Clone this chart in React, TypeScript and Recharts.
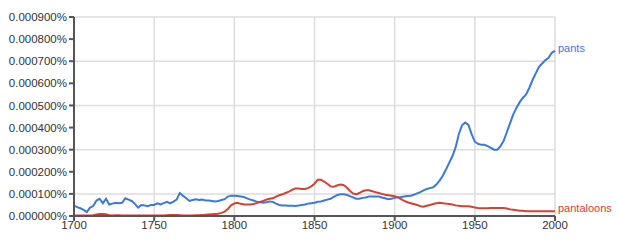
import React from 'react'
import { LineChart, Line, XAxis, YAxis, CartesianGrid } from 'recharts'

// values are in millionths of a percent (100 => 0.000100%)
const years: number[] = []
for (let y = 1700; y <= 2000; y += 2) years.push(y)

const pants = [
  47, 40, 35, 28, 18, 38, 45, 70, 78, 58, 78, 52, 56, 60, 58, 60, 80, 74, 68, 55,
  38, 50, 48, 44, 50, 50, 57, 52, 58, 64, 57, 65, 74, 104, 92, 80, 68, 72, 76, 72,
  74, 70, 70, 68, 66, 68, 72, 76, 88, 92, 92, 90, 88, 86, 80, 74, 70, 64, 62, 60,
  62, 66, 64, 56, 50, 48, 47, 46, 46, 45, 47, 50, 52, 56, 58, 60, 64, 66, 70, 74,
  78, 86, 94, 98, 98, 96, 90, 84, 78, 78, 82, 84, 88, 88, 88, 88, 84, 80, 76, 78,
  82, 85, 86, 88, 90, 92, 96, 102, 108, 116, 122, 126, 130, 142, 160, 182, 210, 240, 270, 310,
  370, 410, 423, 412, 370, 336, 326, 322, 322, 316, 308, 300, 300, 316, 340, 380, 420, 460, 490, 515,
  535, 550, 580, 615, 645, 675, 690, 705, 715, 738, 747,
]

const pantaloons = [
  2, 2, 2, 2, 2, 2, 3, 7, 9, 9, 8, 3, 2, 3, 3, 2, 2, 2, 2, 2,
  2, 2, 2, 2, 2, 2, 2, 2, 2, 3, 4, 4, 4, 3, 2, 2, 2, 2, 3, 3,
  4, 6, 7, 8, 9, 10, 14, 20, 32, 48, 57, 60, 55, 52, 52, 52, 54, 58, 64, 68,
  74, 78, 80, 88, 94, 98, 104, 110, 118, 124, 124, 122, 122, 126, 134, 146, 164, 164, 156, 146,
  134, 132, 138, 142, 140, 130, 114, 102, 98, 104, 112, 116, 116, 112, 108, 104, 100, 96, 94, 92,
  90, 84, 76, 68, 62, 58, 54, 50, 44, 42, 46, 50, 54, 58, 60, 58, 56, 54, 52, 48,
  46, 44, 44, 44, 42, 38, 36, 35, 35, 35, 36, 36, 36, 36, 36, 34, 30, 28, 26, 24,
  24, 22, 22, 22, 22, 22, 21, 21, 21, 21, 21,
]

const xTicks = [1700, 1750, 1800, 1850, 1900, 1950, 2000]
const yTicks = [0, 100, 200, 300, 400, 500, 600, 700, 800, 900]

const seriesNames = ['pants', 'pantaloons']
const seriesColors = ['#3d78d8', '#cc4433']

const data = years.map((year, i) => ({ year, pants: pants[i], pantaloons: pantaloons[i] }))

if (typeof document !== 'undefined') document.body.style.margin = '0'

const font = '"Liberation Sans", Arial, sans-serif'

// draws the series name next to the last point only
function endLabel(name: string, color: string) {
  return (props: any) => {
    if (props.index !== data.length - 1) return null
    return (
      <text
        x={props.x + 3}
        y={props.y - 3}
        fill={color}
        fontSize={11}
        fontFamily={font}
        dominantBaseline="central"
      >
        {name}
      </text>
    )
  }
}

export default function App() {
  return (
    <LineChart
      width={619}
      height={244}
      data={data}
      margin={{ top: 17, right: 64, bottom: 0, left: 0 }}
    >
      <CartesianGrid stroke="#dddddd" strokeWidth={1.5} />
      <XAxis
        type="number"
        dataKey="year"
        domain={[1700, 2000]}
        ticks={xTicks}
        height={28}
        stroke="#555"
        strokeWidth={2}
        tickSize={5}
        tickMargin={0}
        tick={{ fill: '#333', fontSize: 11.5, fontFamily: font }}
      />
      <YAxis
        domain={[0, 900]}
        ticks={yTicks}
        width={74}
        stroke="#555"
        strokeWidth={2}
        tickSize={5}
        tickMargin={2}
        tick={{ fill: '#333', fontSize: 11.5, fontFamily: font }}
        tickFormatter={(v: number) => (v / 1e6).toFixed(6) + '%'}
      />
      {seriesNames.map((name, i) => (
        <Line
          key={name}
          type="linear"
          dataKey={name}
          stroke={seriesColors[i]}
          strokeWidth={2}
          dot={false}
          isAnimationActive={false}
          label={endLabel(name, seriesColors[i])}
        />
      ))}
    </LineChart>
  )
}
